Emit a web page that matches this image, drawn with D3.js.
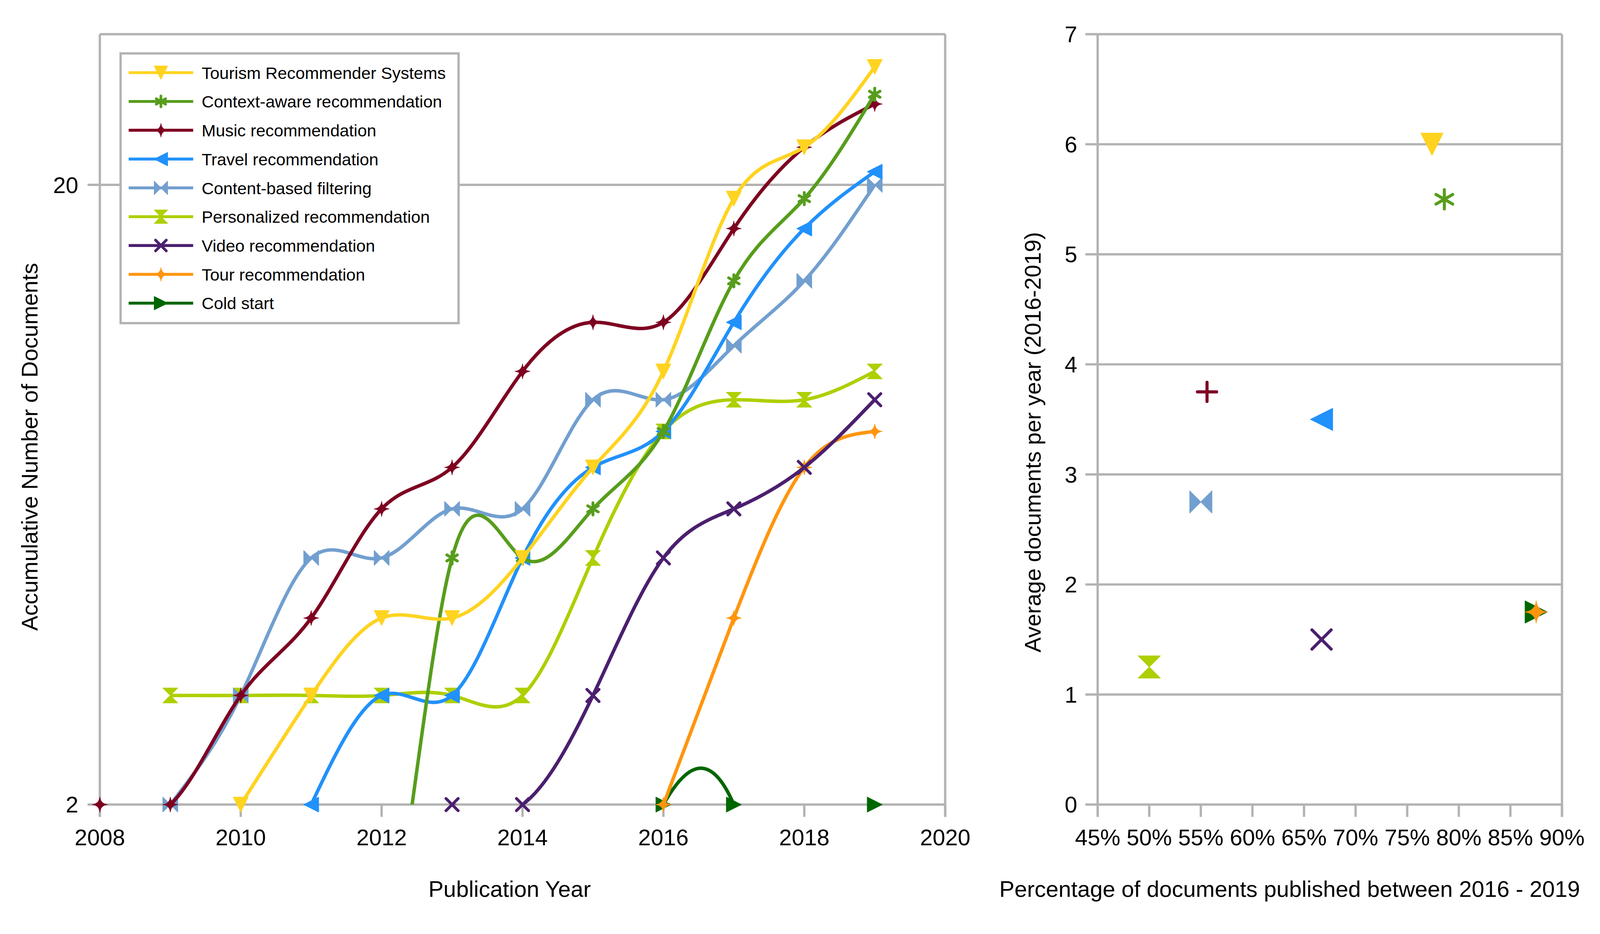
<!DOCTYPE html>
<html>
<head>
<meta charset="utf-8">
<script src="https://cdn.jsdelivr.net/npm/d3@7"></script>
<style>
  html, body { margin: 0; padding: 0; width: 100%; height: 100%; background: #ffffff; overflow: hidden; }
  svg { display: block; width: 100vw; height: 100vh; }
  text { font-family: "Liberation Sans", Arial, sans-serif; fill: #000; }
</style>
</head>
<body>
<svg id="chart" viewBox="0 0 4166 2390" preserveAspectRatio="xMidYMin meet"></svg>
<script>
// ---------------- DATA ----------------
const seriesNames = [
  "Tourism Recommender Systems",
  "Context-aware recommendation",
  "Music recommendation",
  "Travel recommendation",
  "Content-based filtering",
  "Personalized recommendation",
  "Video recommendation",
  "Tour recommendation",
  "Cold start"
];
const years = [2008, 2009, 2010, 2011, 2012, 2013, 2014, 2015, 2016, 2017, 2018, 2019];
// accumulative number of documents (null = no value; values below 2 fall under the log axis)
const tourism      = [null, null, 2, 3, 4, 4, 5, 7, 10, 19, 23, 31];
const contextAware = [null, null, null, 1, 1, 5, 5, 6, 8, 14, 19, 28];
const music        = [2, 2, 3, 4, 6, 7, 10, 12, 12, 17, 23, 27];
const travel       = [null, null, null, 2, 3, 3, 5, 7, 8, 12, 17, 21];
const contentBased = [null, 2, 3, 5, 5, 6, 6, 9, 9, 11, 14, 20];
const personalized = [null, 3, 3, 3, 3, 3, 3, 5, 8, 9, 9, 10];
const video        = [null, null, null, null, null, 2, 2, 3, 5, 6, 7, 9];
const tour         = [null, null, null, null, null, null, null, null, 2, 4, 7, 8];
const coldStart    = [null, null, null, null, null, null, null, 1, 2, 2, 1, 2];
const accumulative = [tourism, contextAware, music, travel, contentBased, personalized, video, tour, coldStart];

// right chart: share published 2016-2019 and average documents per year (2016-2019)
const shareRecent = [0.774, 0.786, 0.556, 0.667, 0.55, 0.50, 0.667, 0.875, 0.875];
const avgPerYear  = [6.0, 5.5, 3.75, 3.5, 2.75, 1.25, 1.5, 1.75, 1.75];

// tick labels
const leftYTicks  = [2, 20];
const leftXTicks  = [2008, 2010, 2012, 2014, 2016, 2018, 2020];
const rightYTicks = [0, 1, 2, 3, 4, 5, 6, 7];
const rightXTicks = [0.45, 0.50, 0.55, 0.60, 0.65, 0.70, 0.75, 0.80, 0.85, 0.90];

// ---------------- STYLES ----------------
const colors = ["#ffd320", "#579d1c", "#7e0021", "#2191fb", "#729fcf", "#aecf00", "#4b1f6f", "#ff950e", "#006600"];
const leftSymbols  = ["down", "asterisk", "star4", "left", "bowtie", "hourglass", "x", "star4", "right"];
const rightSymbols = ["down", "asterisk", "plus", "left", "bowtie", "hourglass", "x", "star4", "right"];
const GRID = "#b3b3b3";
const FONT = 59;

const svg = d3.select("#chart");

// ---------------- SCALES ----------------
const xL = d3.scaleLinear().domain([2008, 2020]).range([260, 2461]);
const yL = d3.scaleLog().domain([2, 35]).range([2094, 89]);
const xR = d3.scaleLinear().domain([0.45, 0.90]).range([2858, 4067]);
const yR = d3.scaleLinear().domain([0, 7]).range([2094, 89]);

function symbolPath(type, s, sw) {
  const h = s / 2;
  switch (type) {
    case "down": return {d: `M${-h},${-h}L${h},${-h}L0,${h}Z`, filled: true};
    case "left": return {d: `M${h},${-h}L${h},${h}L${-h},0Z`, filled: true};
    case "right": return {d: `M${-h},${-h}L${-h},${h}L${h},0Z`, filled: true};
    case "bowtie": return {d: `M${-h},${-h}L0,0L${-h},${h}ZM${h},${-h}L0,0L${h},${h}Z`, filled: true};
    case "hourglass": return {d: `M${-h},${-h}L${h},${-h}L0,0ZM${-h},${h}L${h},${h}L0,0Z`, filled: true};
    case "star4": {
      const c = 0.1 * h;
      return {d: `M0,${-h}Q${c},${-c} ${h},0Q${c},${c} 0,${h}Q${-c},${c} ${-h},0Q${-c},${-c} 0,${-h}Z`, filled: true};
    }
    case "x": {
      const k = h - sw / 2;
      return {d: `M${-k},${-k}L${k},${k}M${k},${-k}L${-k},${k}`, filled: false};
    }
    case "plus": {
      const k = h - sw / 2;
      return {d: `M0,${-k}L0,${k}M${-k},0L${k},0`, filled: false};
    }
    case "asterisk": {
      const k = h - sw / 2;
      const a = k * Math.cos(Math.PI / 6), b = k * 0.5;
      return {d: `M0,${-k}L0,${k}M${-a},${-b}L${a},${b}M${-a},${b}L${a},${-b}`, filled: false};
    }
  }
}

function drawSymbol(g, type, cx, cy, s, color, sw) {
  const p = symbolPath(type, s, sw);
  const el = g.append("path")
    .attr("d", p.d)
    .attr("transform", `translate(${cx},${cy})`);
  if (p.filled) {
    el.attr("fill", color).attr("stroke", color).attr("stroke-width", 1.5).attr("stroke-linejoin", "round");
  } else {
    el.attr("fill", "none").attr("stroke", color).attr("stroke-width", sw)
      .attr("stroke-linecap", "round");
  }
}

// ---------------- LEFT CHART ----------------
const left = svg.append("g");

left.append("line").attr("x1", 228).attr("x2", 2461).attr("y1", yL(20)).attr("y2", yL(20))
  .attr("stroke", GRID).attr("stroke-width", 6);
left.append("line").attr("x1", 260).attr("x2", 2461).attr("y1", 89).attr("y2", 89)
  .attr("stroke", GRID).attr("stroke-width", 6);
left.append("line").attr("x1", 228).attr("x2", 2461).attr("y1", 2094).attr("y2", 2094)
  .attr("stroke", GRID).attr("stroke-width", 6);
left.append("line").attr("x1", 260).attr("x2", 260).attr("y1", 89).attr("y2", 2126)
  .attr("stroke", GRID).attr("stroke-width", 6);
left.append("line").attr("x1", 2461).attr("x2", 2461).attr("y1", 89).attr("y2", 2126)
  .attr("stroke", GRID).attr("stroke-width", 6);
leftXTicks.forEach(t => {
  left.append("line").attr("x1", xL(t)).attr("x2", xL(t)).attr("y1", 2094).attr("y2", 2126)
    .attr("stroke", GRID).attr("stroke-width", 6);
  left.append("text").attr("x", xL(t)).attr("y", 2200).attr("text-anchor", "middle")
    .attr("font-size", FONT).text(t);
});
leftYTicks.forEach(t => {
  left.append("text").attr("x", 204).attr("y", yL(t) + 21).attr("text-anchor", "end")
    .attr("font-size", FONT).text(t);
});

left.append("text").attr("x", 1327).attr("y", 2334).attr("text-anchor", "middle")
  .attr("font-size", FONT).text("Publication Year");
left.append("text").attr("transform", "translate(98,1163) rotate(-90)").attr("text-anchor", "middle")
  .attr("font-size", FONT).text("Accumulative Number of Documents");

svg.append("defs").append("clipPath").attr("id", "plotClip")
  .append("rect").attr("x", 260).attr("y", 89).attr("width", 2201).attr("height", 2005);

const lineGen = d3.line()
  .x(d => xL(d.year))
  .y(d => yL(d.v))
  .curve(d3.curveNatural);

const order = d3.range(seriesNames.length).reverse();
const seriesLayer = left.append("g");
order.forEach(i => {
  const pts = years.map((y, j) => ({year: y, v: accumulative[i][j]})).filter(d => d.v !== null);
  const g = seriesLayer.append("g");
  g.append("path").attr("d", lineGen(pts)).attr("fill", "none")
    .attr("stroke", colors[i]).attr("stroke-width", 9)
    .attr("stroke-linejoin", "round")
    .attr("clip-path", "url(#plotClip)");
  pts.filter(d => d.v >= 2).forEach(d => {
    drawSymbol(g, leftSymbols[i], xL(d.year), yL(d.v), 39, colors[i], 7.5);
  });
});

// legend
const lg = left.append("g");
lg.append("rect").attr("x", 314).attr("y", 139).attr("width", 880).attr("height", 702)
  .attr("fill", "#fff").attr("stroke", GRID).attr("stroke-width", 6);
seriesNames.forEach((name, i) => {
  const cy = 189 + 75 * i;
  lg.append("line").attr("x1", 335).attr("x2", 503).attr("y1", cy).attr("y2", cy)
    .attr("stroke", colors[i]).attr("stroke-width", 7.5);
  drawSymbol(lg, leftSymbols[i], 419, cy, 35, colors[i], 7);
  lg.append("text").attr("x", 525).attr("y", cy + 16).attr("font-size", 44).text(name);
});

// ---------------- RIGHT CHART ----------------
const right = svg.append("g");
rightYTicks.forEach(t => {
  right.append("line").attr("x1", 2826).attr("x2", 4067).attr("y1", yR(t)).attr("y2", yR(t))
    .attr("stroke", GRID).attr("stroke-width", 6);
  right.append("text").attr("x", 2805).attr("y", yR(t) + 21).attr("text-anchor", "end")
    .attr("font-size", FONT).text(t);
});
right.append("line").attr("x1", 2858).attr("x2", 2858).attr("y1", 89).attr("y2", 2126)
  .attr("stroke", GRID).attr("stroke-width", 6);
right.append("line").attr("x1", 4067).attr("x2", 4067).attr("y1", 89).attr("y2", 2126)
  .attr("stroke", GRID).attr("stroke-width", 6);
const pctFmt = d3.format(".0%");
rightXTicks.forEach(t => {
  right.append("line").attr("x1", xR(t)).attr("x2", xR(t)).attr("y1", 2094).attr("y2", 2126)
    .attr("stroke", GRID).attr("stroke-width", 6);
  right.append("text").attr("x", xR(t)).attr("y", 2200).attr("text-anchor", "middle")
    .attr("font-size", FONT).text(pctFmt(t));
});
right.append("text").attr("x", 3358).attr("y", 2334).attr("text-anchor", "middle")
  .attr("font-size", FONT).text("Percentage of documents published between 2016 - 2019");
right.append("text").attr("transform", "translate(2710,1151) rotate(-90)").attr("text-anchor", "middle")
  .attr("font-size", FONT).text("Average documents per year (2016-2019)");

const ptLayer = right.append("g");
order.forEach(i => {
  drawSymbol(ptLayer, rightSymbols[i], xR(shareRecent[i]), yR(avgPerYear[i]), 58, colors[i], 8);
});
</script>
</body>
</html>
